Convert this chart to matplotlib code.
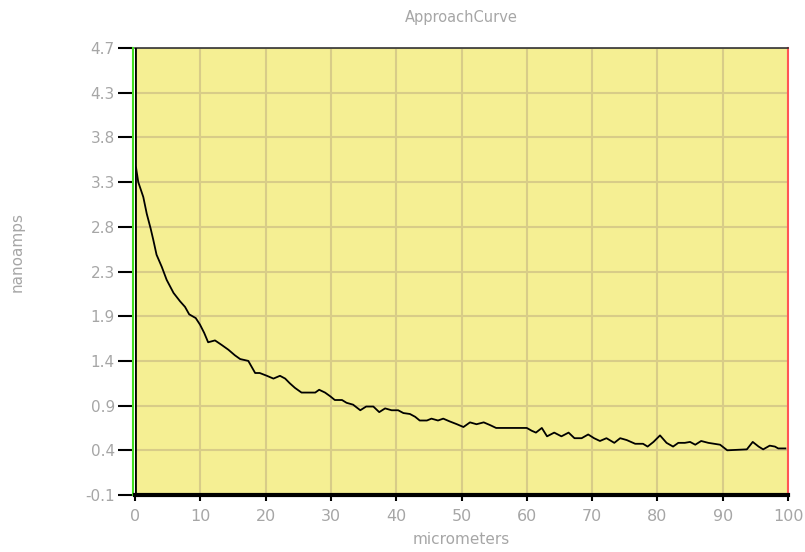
import numpy as np
import matplotlib
matplotlib.use("Agg")
import matplotlib.pyplot as plt

# approach curve samples: distance (micrometers) vs current (nanoamps)
distance = [0.0, 0.15, 0.5, 1.27, 1.8, 2.4, 2.8, 3.3, 4.1, 4.85, 5.9, 6.9, 7.66, 8.3, 9.3,
            9.95, 10.6, 11.2, 12.25, 13.3, 14.3, 15.3, 16.1, 17.35, 18.4, 19.1, 20.2,
            21.2, 22.2, 23.0, 23.7, 24.5, 25.5, 27.6, 28.2, 29.1, 29.9, 30.6, 31.7,
            32.4, 33.4, 34.5, 35.4, 36.5, 37.4, 38.3, 39.3, 40.3, 41.1, 42.1, 42.9,
            43.6, 44.7, 45.4, 46.4, 47.2, 48.2, 49.3, 50.3, 51.3, 52.3, 53.4, 54.4,
            55.3, 60.0, 60.75, 61.4, 62.3, 63.1, 64.2, 65.3, 66.4, 67.3, 68.4, 69.4,
            70.3, 71.2, 72.2, 73.4, 74.3, 75.3, 76.6, 77.8, 78.5, 79.4, 80.4, 81.4,
            82.4, 83.2, 84.2, 85.0, 85.8, 86.7, 87.8, 89.6, 90.7, 93.7, 94.6, 95.5,
            96.2, 97.2, 98.0, 98.5, 99.6]
current = [3.35, 3.42, 3.26, 3.10, 2.92, 2.76, 2.64, 2.48, 2.35, 2.21, 2.07, 1.98, 1.92,
           1.84, 1.80, 1.73, 1.64, 1.54, 1.56, 1.51, 1.46, 1.40, 1.36, 1.34, 1.21, 1.21,
           1.18, 1.15, 1.18, 1.15, 1.10, 1.05, 1.00, 1.00, 1.03, 1.00, 0.96, 0.92, 0.92,
           0.89, 0.87, 0.81, 0.85, 0.85, 0.79, 0.83, 0.81, 0.81, 0.78, 0.77, 0.74, 0.70,
           0.70, 0.72, 0.70, 0.72, 0.69, 0.66, 0.63, 0.68, 0.66, 0.68, 0.65, 0.62, 0.62,
           0.59, 0.57, 0.62, 0.53, 0.57, 0.53, 0.57, 0.51, 0.51, 0.55, 0.51, 0.48, 0.51,
           0.46, 0.51, 0.49, 0.45, 0.45, 0.42, 0.47, 0.54, 0.46, 0.42, 0.46, 0.46, 0.47,
           0.44, 0.48, 0.46, 0.44, 0.38, 0.39, 0.47, 0.42, 0.39, 0.43, 0.42, 0.40, 0.40]

x_ticks = list(range(0, 101, 10))
y_tick_labels = ["-0.1", "0.4", "0.9", "1.4", "1.9", "2.3", "2.8", "3.3", "3.8", "4.3", "4.7"]

label_grey = "#a6a6a6"
W, H = 805, 552
fig = plt.figure(figsize=(W / 100, H / 100), dpi=100)
ax = fig.add_axes([135 / W, (H - 495) / H, (788 - 135) / W, (495 - 48) / H])
ax.set_facecolor("#f5ef93")

ax.plot(distance, current, color="black", lw=1.3)

ax.set_xlim(0, 100)
ax.set_ylim(-0.1, 4.7)
ax.set_xticks(x_ticks)
ax.set_yticks(np.linspace(-0.1, 4.7, len(y_tick_labels)))
ax.set_yticklabels(y_tick_labels)
ax.grid(True, color="#d8cc88", lw=1.5)
ax.set_axisbelow(True)

ax.tick_params(axis="y", length=11, width=1.5, color="black", pad=2,
               labelsize=11, labelcolor=label_grey)
ax.tick_params(axis="x", length=4, width=1.5, color="black", pad=6,
               labelsize=11.5, labelcolor=label_grey)

ax.spines["left"].set_color("#44dd22")
ax.spines["left"].set_linewidth(1.5)
ax.spines["left"].set_position(("outward", 1.5))
ax.axvline(0, color="black", lw=2, zorder=3)
ax.spines["right"].set_color("#ff5555")
ax.spines["right"].set_linewidth(1.5)
ax.spines["top"].set_color("#333333")
ax.spines["top"].set_linewidth(1.2)
ax.spines["bottom"].set_color("black")
ax.spines["bottom"].set_linewidth(3)

ax.set_title("ApproachCurve", color=label_grey, fontsize=10.5, pad=19)
ax.set_xlabel("micrometers", color=label_grey, fontsize=11, labelpad=6)
fig.text(17 / W, 1 - 252 / H, "nanoamps", rotation=90, color=label_grey,
         fontsize=11, ha="center", va="center")

fig.savefig("out.png", dpi=100)
